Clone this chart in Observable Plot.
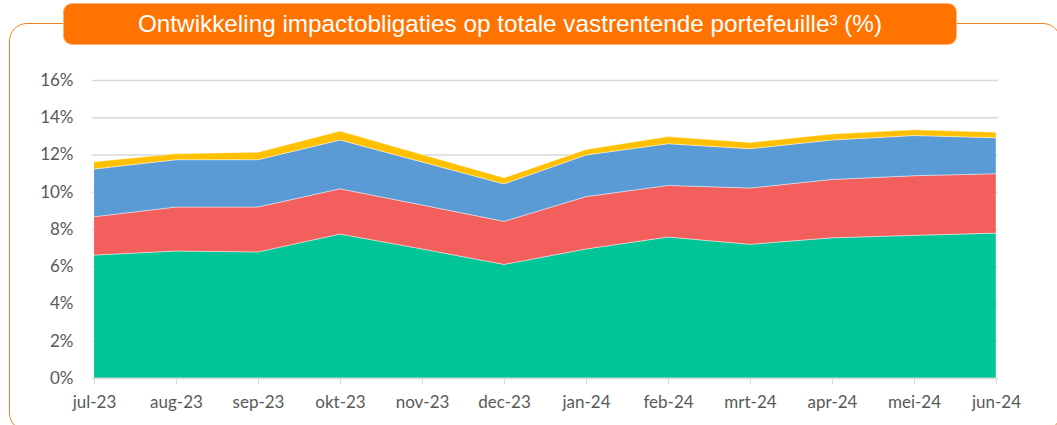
<!DOCTYPE html>
<html>
<head>
<meta charset="utf-8">
<script src="https://cdn.jsdelivr.net/npm/d3@7"></script>
<script src="https://cdn.jsdelivr.net/npm/@observablehq/plot@0.6"></script>
<style>
  html, body { margin: 0; padding: 0; background: #fff; }
  #wrap { position: relative; width: 1057px; height: 425px; overflow: hidden; background: #fff; }
  #frame { position: absolute; left: 9px; top: 23px; width: 1052px; height: 408px;
           border: 1.6px solid #F7801E; border-radius: 18px; box-sizing: border-box; }
  #title { position: absolute; left: 63px; top: 3px; width: 894px; height: 42px; box-sizing: border-box;
           background: #FF7300; border: 1px solid #FFB47C; border-radius: 9px;
           color: #fff; font-family: "Liberation Sans", Arial, sans-serif; font-size: 24.3px;
           display: flex; align-items: center; justify-content: center; z-index: 2; }
  #chart { position: absolute; left: 0; top: 0; }
</style>
</head>
<body>
<div id="wrap">
  <div id="frame"></div>
  <div id="title">Ontwikkeling impactobligaties op totale vastrentende portefeuille³ (%)</div>
  <div id="chart"></div>
</div>
<script>
const months = ["jul-23","aug-23","sep-23","okt-23","nov-23","dec-23","jan-24","feb-24","mrt-24","apr-24","mei-24","jun-24"];
const seriesNames = ["Serie 1","Serie 2","Serie 3","Serie 4"];
const serie1 = [6.60, 6.82, 6.77, 7.73, 6.93, 6.10, 6.93, 7.57, 7.18, 7.53, 7.66, 7.78];
const serie2 = [2.06, 2.36, 2.41, 2.43, 2.36, 2.31, 2.81, 2.77, 3.02, 3.13, 3.20, 3.19];
const serie3 = [2.56, 2.54, 2.54, 2.62, 2.31, 2.01, 2.23, 2.24, 2.11, 2.12, 2.16, 1.93];
const serie4 = [0.39, 0.32, 0.40, 0.48, 0.40, 0.33, 0.30, 0.38, 0.34, 0.32, 0.31, 0.30];
const yTicks = [0, 2, 4, 6, 8, 10, 12, 14, 16];
const colors = ["#02C597", "#F25F5C", "#5A9AD5", "#FFC000"];

const seriesValues = [serie1, serie2, serie3, serie4];
const data = [];
seriesNames.forEach((s, i) => seriesValues[i].forEach((v, j) => data.push({month: months[j], series: s, value: v})));

const chart = Plot.plot({
  width: 1057,
  height: 425,
  marginLeft: 92,
  marginRight: 59,
  marginTop: 80,
  marginBottom: 47,
  style: {fontFamily: "Lato, sans-serif", fontSize: "17px", color: "#595959", background: "transparent"},
  x: {type: "point", domain: months, padding: 0, label: null},
  y: {domain: [0, 16], label: null},
  color: {domain: seriesNames, range: colors},
  marks: [
    Plot.gridY(yTicks.filter(d => d > 0), {stroke: "#d9d9d9", strokeOpacity: 1, strokeWidth: 1.3}),
    Plot.areaY(data, {x: "month", y: "value", fill: "series", stroke: "#ffffff", strokeWidth: 0.6, strokeOpacity: 0.7, order: seriesNames}),
    Plot.ruleY([0], {stroke: "#d9d9d9", strokeWidth: 1.3}),
    Plot.axisY(yTicks, {tickSize: 0, tickPadding: 19, tickFormat: d => d + "%", fill: "#595959"}),
    Plot.axisX(months, {tickSize: 6, tickPadding: 11, stroke: "#d9d9d9", fill: "#595959"})
  ]
});
document.getElementById("chart").appendChild(chart);
</script>
</body>
</html>
